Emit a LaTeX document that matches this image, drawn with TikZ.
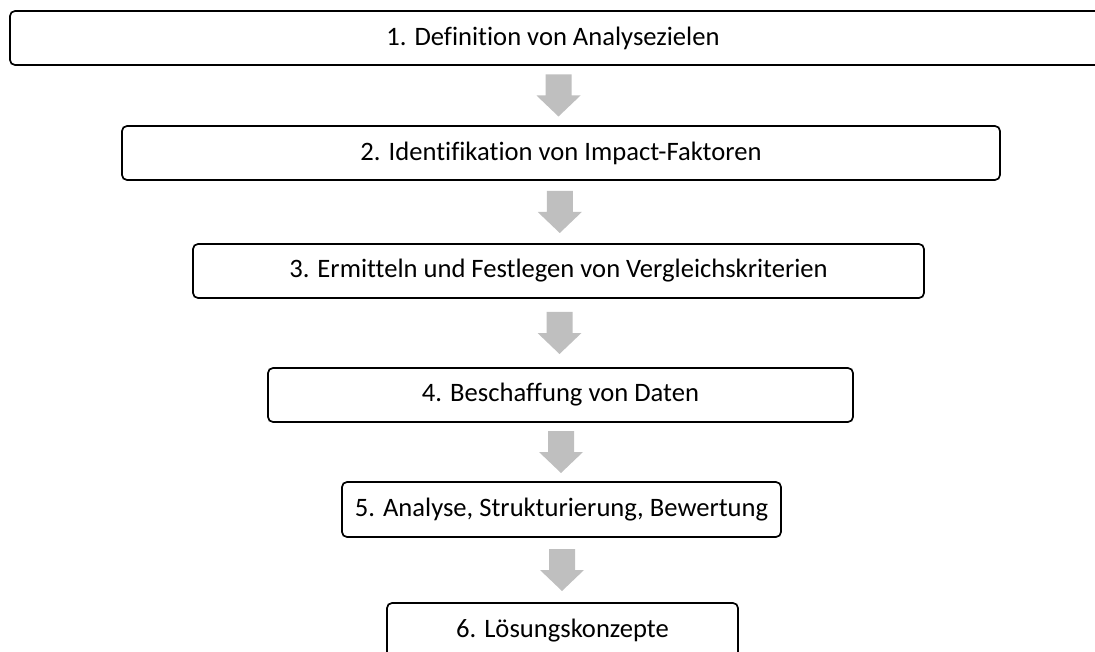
\documentclass[tikz,border=0pt]{standalone}
\usepackage{fontspec}
\setmainfont{Carlito}[Ligatures=NoCommon]
\usetikzlibrary{calc}
\definecolor{arrowgray}{RGB}{191,191,191}
\tikzset{
  stepbox/.style={draw=black, line width=1.7pt, rounded corners=5pt, fill=white,
    inner sep=0pt, font=\fontsize{26.6pt}{30pt}\selectfont, text=black},
  arrowfill/.style={fill=arrowgray, draw=none}
}
\newcommand{\blockarrow}[1]{%
  \fill[arrowfill] (#1) ++(-13,-21) -- ++(26,0) -- ++(0,21) -- ++(9,0) -- ++(-22,21) -- ++(-22,-21) -- ++(9,0) -- cycle;}
\begin{document}
\begin{tikzpicture}[x=1pt,y=-1pt]
\useasboundingbox (0,0) rectangle (1095,652);
\node[stepbox, minimum width=1092pt, minimum height=54pt] (b1) at (556,38) {\hspace*{-6pt}1. Definition von Analysezielen};
\node[stepbox, minimum width=878pt, minimum height=54pt] (b2) at (561,153) {2. Identifikation von Impact-Faktoren};
\node[stepbox, minimum width=731pt, minimum height=54pt] (b3) at (558.5,271) {3. Ermitteln und Festlegen von Vergleichskriterien};
\node[stepbox, minimum width=585pt, minimum height=54pt] (b4) at (560.5,395) {4. Beschaffung von Daten};
\node[stepbox, minimum width=439pt, minimum height=55pt] (b5) at (561.5,509.5) {5. Analyse, Strukturierung, Bewertung};
\node[stepbox, minimum width=351pt, minimum height=55pt] (b6) at (562.5,630.5) {6. Lösungskonzepte};
\path (b1.south) -- (b2.north) coordinate[pos=0.5] (m1);
\path (b2.south) -- (b3.north) coordinate[pos=0.5] (m2);
\path (b3.south) -- (b4.north) coordinate[pos=0.5] (m3);
\path (b4.south) -- (b5.north) coordinate[pos=0.5] (m4);
\path (b5.south) -- (b6.north) coordinate[pos=0.5] (m5);
\blockarrow{m1}
\blockarrow{m2}
\blockarrow{m3}
\blockarrow{m4}
\blockarrow{m5}
\end{tikzpicture}
\end{document}
